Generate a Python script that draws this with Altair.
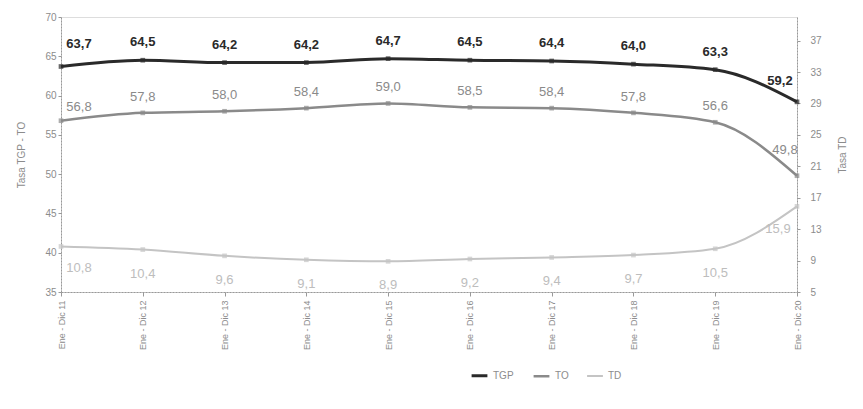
import altair as alt
import pandas as pd

periods = ["Ene - Dic 11", "Ene - Dic 12", "Ene - Dic 13", "Ene - Dic 14", "Ene - Dic 15",
           "Ene - Dic 16", "Ene - Dic 17", "Ene - Dic 18", "Ene - Dic 19", "Ene - Dic 20"]
tgp = [63.7, 64.5, 64.2, 64.2, 64.7, 64.5, 64.4, 64.0, 63.3, 59.2]
to = [56.8, 57.8, 58.0, 58.4, 59.0, 58.5, 58.4, 57.8, 56.6, 49.8]
td = [10.8, 10.4, 9.6, 9.1, 8.9, 9.2, 9.4, 9.7, 10.5, 15.9]
series_names = ["TGP", "TO", "TD"]
left_ticks = [35, 40, 45, 50, 55, 60, 65, 70]
right_ticks = [5, 9, 13, 17, 21, 25, 29, 33, 37]

rows = []
for name, vals in zip(series_names, [tgp, to, td]):
    for i, (p, v) in enumerate(zip(periods, vals)):
        rows.append({"period": p, "value": v, "series": name, "idx": i})
df = pd.DataFrame(rows)

FONT = "Liberation Sans"
colors = ["#2a2a2a", "#8a8a8a", "#c4c4c4"]
AXIS_GRAY = "#8c8c8c"

x_enc = alt.X("period:N", sort=periods, scale=alt.Scale(type="point", padding=0),
              axis=alt.Axis(title=None, labelAngle=-90, labelColor=AXIS_GRAY, labelFontSize=9,
                            labelFont=FONT, domainColor="#999", domainDash=[2, 1],
                            tickColor="#999", tickSize=4, labelPadding=4))

y_left = alt.Y("value:Q", scale=alt.Scale(domain=[35, 70], nice=False, zero=False),
               axis=alt.Axis(title="Tasa TGP - TO", values=left_ticks, grid=False, orient="left",
                             labelColor=AXIS_GRAY, labelFontSize=10, labelFont=FONT,
                             titleFont=FONT, titleFontSize=10, titleFontWeight="normal",
                             titleColor=AXIS_GRAY, titlePadding=18, domainColor="#999",
                             domainDash=[2, 1], tickColor="#999", tickSize=3))
y_right = alt.Y("value:Q", scale=alt.Scale(domain=[5, 40], nice=False, zero=False),
                axis=alt.Axis(title="Tasa TD", values=right_ticks, grid=False, orient="right",
                              labelColor=AXIS_GRAY, labelFontSize=10, labelFont=FONT,
                              titleFont=FONT, titleFontSize=10, titleFontWeight="normal",
                              titleColor=AXIS_GRAY, titlePadding=26, titleAngle=270,
                              domainColor="#999", domainDash=[2, 1], tickColor="#999",
                              tickSize=3, labelPadding=10))

color_enc = alt.Color("series:N", scale=alt.Scale(domain=series_names, range=colors),
                      legend=alt.Legend(title=None, orient="none", legendX=409, legendY=349,
                                        direction="horizontal", symbolType="stroke",
                                        symbolStrokeWidth=2.5, symbolSize=250,
                                        labelFont=FONT, labelFontSize=10, labelColor=AXIS_GRAY,
                                        columnPadding=14))
width_enc = alt.StrokeWidth("series:N", scale=alt.Scale(domain=series_names, range=[3, 2, 1.5]),
                            legend=None)


def lines(data_filter, y):
    base = alt.Chart(df).transform_filter(data_filter)
    line = base.mark_line(interpolate="monotone").encode(x=x_enc, y=y, color=color_enc,
                                                          strokeWidth=width_enc)
    pts = base.mark_point(shape="square", filled=True, size=22).encode(
        x=x_enc, y=y, color=alt.Color("series:N", scale=alt.Scale(domain=series_names, range=colors),
                                      legend=None))
    return [line, pts]


def labels(name, y, color, weight, size, mid, first, last):
    out = []
    base = alt.Chart(df).transform_filter(alt.datum.series == name).transform_calculate(
        label="replace(format(datum.value, '.1f'), '.', ',')")
    for cond, (dx, dy) in [(alt.datum.idx == 0, first),
                           ((alt.datum.idx > 0) & (alt.datum.idx < 9), mid),
                           (alt.datum.idx == 9, last)]:
        out.append(base.transform_filter(cond).mark_text(
            dx=dx, dy=dy, font=FONT, fontSize=size, fontWeight=weight, color=color,
            baseline="middle", align="center").encode(x=x_enc, y=y, text="label:N"))
    return out


left_layers = lines(alt.FieldOneOfPredicate(field="series", oneOf=["TGP", "TO"]), y_left)
left_layers += labels("TGP", y_left, "#2a2a2a", "bold", 13, (0, -18), (18, -23), (-17, -21))
left_layers += labels("TO", y_left, "#8a8a8a", "normal", 13, (0, -16), (18, -14), (-12, -26))
left = alt.layer(*left_layers)

right_layers = lines(alt.datum.series == "TD", y_right)
right_layers += labels("TD", y_right, "#bdbdbd", "normal", 13, (0, 24), (18, 22), (-19, 23))
right = alt.layer(*right_layers)

chart = alt.layer(left, right).resolve_scale(y="independent").properties(
    width=736, height=275,
    autosize=alt.AutoSizeParams(type="none"),
    padding={"left": 53, "top": 9, "right": 58, "bottom": 109},
).configure_view(stroke=None).configure(background="white")

chart.save("out.html", embed_options={"renderer": "svg", "actions": False})
